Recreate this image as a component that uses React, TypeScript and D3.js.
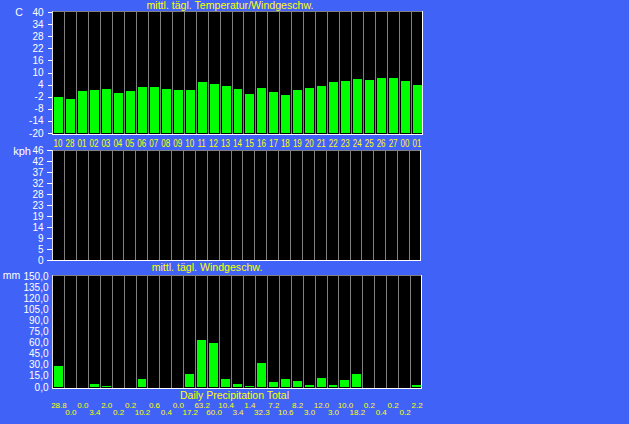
import React from "react";
import * as d3 from "d3";

const W = 629;
const H = 424;

const dayLabels = ["10","28","01","02","03","04","05","06","07","08","09","10","11","12","13","14","15","16","17","18","19","20","21","22","23","24","25","26","27","00","01"];
const temperature = [-2.2,-3.1,0.8,1.3,1.8,-0.2,0.8,2.7,2.7,1.8,1.3,1.3,5.2,4.2,3.2,1.8,-0.7,2.2,0.3,-1.2,1.3,2.2,3.2,5.2,5.7,6.6,6.1,7.1,7.1,5.7,3.7];
const windSpeed = [0,0,0,0,0,0,0,0,0,0,0,0,0,0,0,0,0,0,0,0,0,0,0,0,0,0,0,0,0,0,0];
const precipitation = [28.8,0.0,0.0,3.4,2.0,0.2,0.2,10.2,0.6,0.4,0.0,17.2,63.2,60.0,10.4,3.4,1.4,32.3,7.2,10.6,8.2,3.0,12.0,3.0,10.0,18.2,0.2,0.4,0.2,0.2,2.2];
const tempTicks = [40,34,28,22,16,10,4,-2,-8,-14,-20];
const windTickLabels = ["46","42","37","32","28","23","19","14","9","5","0"];
const precipTicks = [150,135,120,105,90,75,60,45,30,15,0];

const BG = "#4162F7";
const GREEN = "#00FF00";
const GRID = "#808080";
const YELLOW = "#FFFF00";
const FONT = "'Liberation Sans', Arial, sans-serif";

type Box = { left: number; right: number; top: number; bottom: number };

function Frame({ box, x }: { box: Box; x: d3.ScaleBand<number> }) {
  const lines = d3.range(1, dayLabels.length).map((i) => Math.round(x(i) as number));
  return (
    <g>
      <rect x={box.left} y={box.top} width={box.right - box.left} height={box.bottom - box.top} fill="#000" />
      {lines.map((gx, i) => (
        <line key={i} x1={gx + 0.5} x2={gx + 0.5} y1={box.top} y2={box.bottom} stroke={GRID} strokeWidth={1} />
      ))}
      <line x1={box.left} x2={box.right} y1={box.top + 0.5} y2={box.top + 0.5} stroke={GRID} />
      <line x1={box.left + 0.5} x2={box.left + 0.5} y1={box.top} y2={box.bottom} stroke="#E0E0E0" />
      <line x1={box.right - 0.5} x2={box.right - 0.5} y1={box.top} y2={box.bottom + 1} stroke="#FFFFFF" />
      <line x1={box.left} x2={box.right} y1={box.bottom + 0.5} y2={box.bottom + 0.5} stroke="#FFFFFF" />
    </g>
  );
}

function Bars({ x, y, values, base }: { x: d3.ScaleBand<number>; y: d3.ScaleLinear<number, number>; values: number[]; base: number }) {
  return (
    <g>
      {values.map((v, i) => {
        const g0 = Math.round(x(i) as number);
        const g1 = Math.round((x(i) as number) + x.bandwidth());
        const top = Math.round(y(v));
        const bottom = Math.round(y(base));
        const h = bottom - top;
        if (h <= 0) return null;
        return <rect key={i} x={g0 + 2} y={top} width={g1 - g0 - 3} height={h} fill={GREEN} />;
      })}
    </g>
  );
}

export default function App() {
  const tBox: Box = { left: 52, right: 423, top: 11, bottom: 134 };
  const wBox: Box = { left: 52, right: 421, top: 150, bottom: 260 };
  const pBox: Box = { left: 52, right: 422, top: 275, bottom: 388 };

  const idx = d3.range(dayLabels.length);
  const xT = d3.scaleBand<number>().domain(idx).range([tBox.left, tBox.right]);
  const xW = d3.scaleBand<number>().domain(idx).range([wBox.left, wBox.right]);
  const xP = d3.scaleBand<number>().domain(idx).range([pBox.left, pBox.right]);

  const yT = d3.scaleLinear().domain([-20, 40]).range([tBox.bottom - 1, tBox.top + 1]);
  const yW = d3.scaleLinear().domain([0, 46]).range([wBox.bottom - 1, wBox.top + 1]);
  const yWLabel = d3.scalePoint<string>().domain(windTickLabels).range([wBox.top, wBox.bottom]);
  const yP = d3.scaleLinear().domain([0, 150]).range([pBox.bottom - 1, pBox.top + 1]);

  const fmtP = (v: number) => d3.format(".1f")(v).replace(".", ",");
  const fmtV = d3.format(".1f");

  return (
    <svg
      width={W}
      height={H}
      viewBox={`0 0 ${W} ${H}`}
      style={{ position: "fixed", left: 0, top: 0, display: "block", background: BG }}
    >
      <rect x={0} y={0} width={W} height={H} fill={BG} />

      {/* Temperature panel */}
      <text x={230} y={9} fill={YELLOW} fontFamily={FONT} fontSize={10.6} textAnchor="middle">
        mittl. tägl. Temperatur/Windgeschw.
      </text>
      <Frame box={tBox} x={xT} />
      <Bars x={xT} y={yT} values={temperature} base={-20} />
      <text x={19} y={15.5} fill="#fff" fontFamily={FONT} fontSize={10.5} textAnchor="middle">C</text>
      {tempTicks.map((t) => (
        <g key={t}>
          <line x1={48} x2={52} y1={Math.round(yT(t)) + 0.5} y2={Math.round(yT(t)) + 0.5} stroke="#fff" />
          <text x={43.5} y={yT(t)} dy="0.35em" fill="#fff" fontFamily={FONT} fontSize={10} textAnchor="end">
            {t}
          </text>
        </g>
      ))}
      {dayLabels.map((d, i) => (
        <text
          key={i}
          transform={`translate(${(xT(i) as number) + xT.bandwidth() / 2},146.7) scale(0.8,1)`}
          x={0}
          y={0}
          fill={YELLOW}
          fontFamily={FONT}
          fontSize={10}
          textAnchor="middle"
        >
          {d}
        </text>
      ))}

      {/* Wind panel */}
      <Frame box={wBox} x={xW} />
      <Bars x={xW} y={yW} values={windSpeed} base={0} />
      <text x={22} y={154.5} fill="#fff" fontFamily={FONT} fontSize={11} textAnchor="middle">kph</text>
      {windTickLabels.map((t) => (
        <g key={t}>
          <line x1={47} x2={52} y1={Math.round(yWLabel(t) as number) + 0.5} y2={Math.round(yWLabel(t) as number) + 0.5} stroke="#fff" />
          <text x={43.5} y={yWLabel(t)} dy="0.35em" fill="#fff" fontFamily={FONT} fontSize={10} textAnchor="end">
            {t}
          </text>
        </g>
      ))}
      <text x={207} y={271} fill={YELLOW} fontFamily={FONT} fontSize={10.6} textAnchor="middle">
        mittl. tägl. Windgeschw.
      </text>

      {/* Precipitation panel */}
      <Frame box={pBox} x={xP} />
      <Bars x={xP} y={yP} values={precipitation} base={0} />
      <text x={11.5} y={279} fill="#fff" fontFamily={FONT} fontSize={10.5} textAnchor="middle">mm</text>
      {precipTicks.map((t) => (
        <text key={t} x={48.5} y={yP(t)} dy="0.35em" fill="#fff" fontFamily={FONT} fontSize={10} textAnchor="end">
          {fmtP(t)}
        </text>
      ))}
      <text x={234.5} y={398.5} fill={YELLOW} fontFamily={FONT} fontSize={10.5} textAnchor="middle">
        Daily Precipitation Total
      </text>
      {precipitation.map((v, i) => (
        <text
          key={i}
          x={(xP(i) as number) + xP.bandwidth() / 2 + 1}
          y={i % 2 === 0 ? 407.5 : 415}
          fill={YELLOW}
          fontFamily={FONT}
          fontSize={8}
          textAnchor="middle"
        >
          {fmtV(v)}
        </text>
      ))}
    </svg>
  );
}
